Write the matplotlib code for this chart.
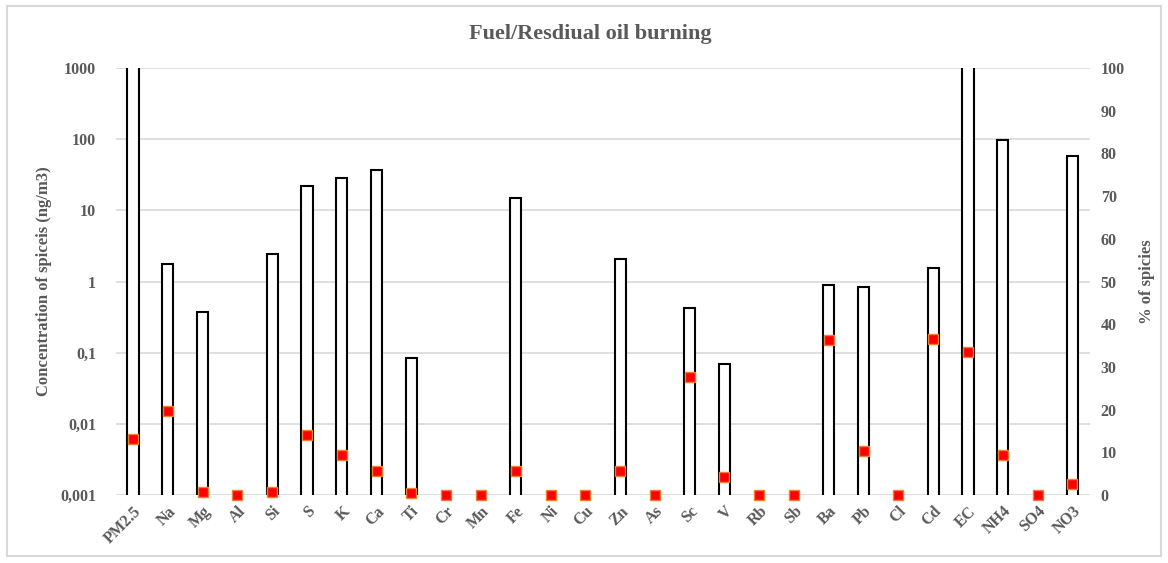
import numpy as np
import matplotlib
matplotlib.use("Agg")
import matplotlib.pyplot as plt
from matplotlib.patches import Rectangle

species = ["PM2.5", "Na", "Mg", "Al", "Si", "S", "K", "Ca", "Ti", "Cr", "Mn",
           "Fe", "Ni", "Cu", "Zn", "As", "Sc", "V", "Rb", "Sb", "Ba", "Pb",
           "Cl", "Cd", "EC", "NH4", "SO4", "NO3"]

# concentration (ng/m3), log scale
concentration = [3000, 1.75, 0.37, 0, 2.46, 22.2, 28.8, 37.3, 0.085, 0, 0,
                 14.9, 0, 0, 2.07, 0, 0.43, 0.069, 0, 0, 0.90, 0.84,
                 0, 1.53, 3000, 97, 0, 58]

# share of species (%)
percent = [13.2, 19.7, 0.8, 0, 0.6, 14.0, 9.4, 5.7, 0.4, 0, 0,
           5.7, 0, 0, 5.7, 0, 27.7, 4.1, 0, 0, 36.2, 10.2,
           0, 36.5, 33.5, 9.4, 0, 2.6]

left_ticks = [0.001, 0.01, 0.1, 1, 10, 100, 1000]
left_ticklabels = ["0,001", "0,01", "0,1", "1", "10", "100", "1000"]
right_ticks = list(range(0, 101, 10))

TXT = "#595959"
GRID = "#d9d9d9"
FONT = ["Liberation Serif", "DejaVu Serif"]

plt.rcParams["font.family"] = FONT
plt.rcParams["font.weight"] = "bold"

fig = plt.figure(figsize=(11.68, 5.63), dpi=100)
ax = fig.add_axes([0.099, 0.1208, 0.834, 0.7584])

x = np.arange(len(species))
conc = np.array(concentration, dtype=float)
mask = conc > 0
base = 1e-4
ax.bar(x[mask], conc[mask] - base, bottom=base, width=0.32,
       facecolor="white", edgecolor="black", linewidth=1.5, zorder=2)

ax.set_yscale("log")
ax.set_ylim(0.001, 1000)
ax.set_xlim(-0.5, len(species) - 0.5)
ax.set_yticks(left_ticks)
ax.set_yticklabels(left_ticklabels)
ax.minorticks_off()
ax.yaxis.grid(True, color=GRID, linewidth=1.2, zorder=0)
ax.set_axisbelow(True)
for s in ax.spines.values():
    s.set_visible(False)
ax.tick_params(axis="both", length=0, colors=TXT, labelsize=11.5)
ax.tick_params(axis="y", pad=14)
ax.set_xticks(x)
ax.set_xticklabels(species, rotation=45, ha="right", va="top",
                   rotation_mode="anchor")
ax.tick_params(axis="x", pad=6)
ax.set_ylabel("Concentration of spiceis (ng/m3)", color=TXT, fontsize=12,
              fontweight="bold", labelpad=6)

ax2 = ax.twinx()
ax2.set_ylim(0, 100)
ax2.set_yticks(right_ticks)
for s in ax2.spines.values():
    s.set_visible(False)
ax2.tick_params(axis="y", length=0, colors=TXT, labelsize=11.5, pad=8)
ax2.plot(x, percent, linestyle="none", marker="s", markersize=7,
         markerfacecolor="#ff0000", markeredgecolor="#f08030",
         markeredgewidth=1.0, clip_on=False, zorder=5)
ax2.set_ylabel("% of spicies", color=TXT, fontsize=12, fontweight="bold",
               labelpad=10)

fig.text(0.505, 0.94, "Fuel/Resdiual oil burning", ha="center", va="center",
         color=TXT, fontsize=16, fontweight="bold")

fig.patches.append(Rectangle((0.006, 0.012), 0.988, 0.978,
                             transform=fig.transFigure, fill=False,
                             edgecolor=GRID, linewidth=1.5))

fig.savefig("out.png", dpi=100)
